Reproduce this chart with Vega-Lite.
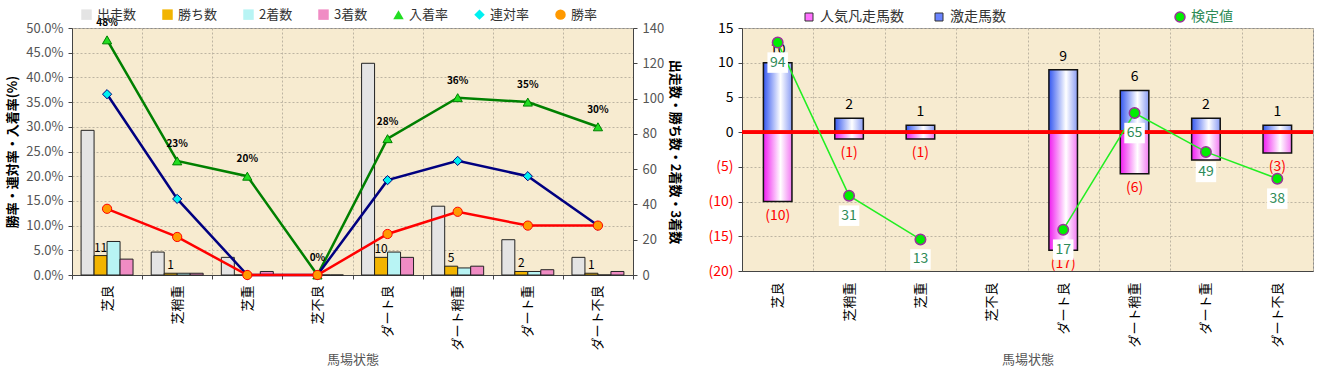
{
  "$schema": "https://vega.github.io/schema/vega-lite/v6.json",
  "background": "white",
  "padding": {"left": 6, "top": 7, "right": 10, "bottom": 5},
  "spacing": 25,
  "config": {
    "font": "Noto Sans CJK JP",
    "view": {"fill": "#f7ebd0", "stroke": "#8c8c8c", "strokeWidth": 1},
    "axis": {"labelFont": "Noto Sans CJK JP", "titleFont": "Noto Sans CJK JP", "domainColor": "#444", "tickColor": "#444", "gridColor": "#bdb4a2", "gridDash": [2, 2], "titleFontWeight": "normal"},
    "legend": {"labelFont": "Noto Sans CJK JP"}
  },
  "datasets": {
    "counts": [
      {"cond": "芝良", "series": "出走数", "value": 82},
      {"cond": "芝良", "series": "勝ち数", "value": 11},
      {"cond": "芝良", "series": "2着数", "value": 19},
      {"cond": "芝良", "series": "3着数", "value": 9},
      {"cond": "芝稍重", "series": "出走数", "value": 13},
      {"cond": "芝稍重", "series": "勝ち数", "value": 1},
      {"cond": "芝稍重", "series": "2着数", "value": 1},
      {"cond": "芝稍重", "series": "3着数", "value": 1},
      {"cond": "芝重", "series": "出走数", "value": 10},
      {"cond": "芝重", "series": "勝ち数", "value": 0},
      {"cond": "芝重", "series": "2着数", "value": 0},
      {"cond": "芝重", "series": "3着数", "value": 2},
      {"cond": "芝不良", "series": "出走数", "value": 0},
      {"cond": "芝不良", "series": "勝ち数", "value": 0},
      {"cond": "芝不良", "series": "2着数", "value": 0},
      {"cond": "芝不良", "series": "3着数", "value": 0},
      {"cond": "ダート良", "series": "出走数", "value": 120},
      {"cond": "ダート良", "series": "勝ち数", "value": 10},
      {"cond": "ダート良", "series": "2着数", "value": 13},
      {"cond": "ダート良", "series": "3着数", "value": 10},
      {"cond": "ダート稍重", "series": "出走数", "value": 39},
      {"cond": "ダート稍重", "series": "勝ち数", "value": 5},
      {"cond": "ダート稍重", "series": "2着数", "value": 4},
      {"cond": "ダート稍重", "series": "3着数", "value": 5},
      {"cond": "ダート重", "series": "出走数", "value": 20},
      {"cond": "ダート重", "series": "勝ち数", "value": 2},
      {"cond": "ダート重", "series": "2着数", "value": 2},
      {"cond": "ダート重", "series": "3着数", "value": 3},
      {"cond": "ダート不良", "series": "出走数", "value": 10},
      {"cond": "ダート不良", "series": "勝ち数", "value": 1},
      {"cond": "ダート不良", "series": "2着数", "value": 0},
      {"cond": "ダート不良", "series": "3着数", "value": 2}
    ],
    "rates": [
      {"cond": "芝良", "series": "入着率", "rate": 0.476},
      {"cond": "芝稍重", "series": "入着率", "rate": 0.231},
      {"cond": "芝重", "series": "入着率", "rate": 0.2},
      {"cond": "芝不良", "series": "入着率", "rate": 0},
      {"cond": "ダート良", "series": "入着率", "rate": 0.276},
      {"cond": "ダート稍重", "series": "入着率", "rate": 0.359},
      {"cond": "ダート重", "series": "入着率", "rate": 0.35},
      {"cond": "ダート不良", "series": "入着率", "rate": 0.3},
      {"cond": "芝良", "series": "連対率", "rate": 0.366},
      {"cond": "芝稍重", "series": "連対率", "rate": 0.154},
      {"cond": "芝重", "series": "連対率", "rate": 0},
      {"cond": "芝不良", "series": "連対率", "rate": 0},
      {"cond": "ダート良", "series": "連対率", "rate": 0.192},
      {"cond": "ダート稍重", "series": "連対率", "rate": 0.231},
      {"cond": "ダート重", "series": "連対率", "rate": 0.2},
      {"cond": "ダート不良", "series": "連対率", "rate": 0.1},
      {"cond": "芝良", "series": "勝率", "rate": 0.134},
      {"cond": "芝稍重", "series": "勝率", "rate": 0.077},
      {"cond": "芝重", "series": "勝率", "rate": 0},
      {"cond": "芝不良", "series": "勝率", "rate": 0},
      {"cond": "ダート良", "series": "勝率", "rate": 0.083},
      {"cond": "ダート稍重", "series": "勝率", "rate": 0.128},
      {"cond": "ダート重", "series": "勝率", "rate": 0.1},
      {"cond": "ダート不良", "series": "勝率", "rate": 0.1}
    ],
    "kentei": [
      {"cond": "芝良", "gek": 10, "bon": -10, "ken": 94},
      {"cond": "芝稍重", "gek": 2, "bon": -1, "ken": 31},
      {"cond": "芝重", "gek": 1, "bon": -1, "ken": 13},
      {"cond": "芝不良", "gek": 0, "bon": 0, "ken": null},
      {"cond": "ダート良", "gek": 9, "bon": -17, "ken": 17},
      {"cond": "ダート稍重", "gek": 6, "bon": -6, "ken": 65},
      {"cond": "ダート重", "gek": 2, "bon": -4, "ken": 49},
      {"cond": "ダート不良", "gek": 1, "bon": -3, "ken": 38}
    ]
  },
  "resolve": {
    "scale": {"x": "independent", "y": "independent", "fill": "independent", "shape": "independent", "stroke": "independent", "xOffset": "independent"},
    "legend": {"fill": "independent", "shape": "independent", "stroke": "independent"}
  },
  "hconcat": [
    {
      "width": 561,
      "height": 247,
      "resolve": {"scale": {"y": "independent"}},
      "layer": [
        {
          "data": {"name": "counts"},
          "encoding": {
            "x": {"field": "cond", "type": "nominal", "scale": {"domain": ["芝良", "芝稍重", "芝重", "芝不良", "ダート良", "ダート稍重", "ダート重", "ダート不良"], "paddingInner": 0, "paddingOuter": 0}, "axis": {"title": "馬場状態", "labelAngle": -90, "tickBand": "extent", "grid": true, "labelFontSize": 13, "labelColor": "#000", "labelPadding": 6, "tickSize": 4, "titleColor": "#555", "titlePadding": 3, "titleFontSize": 13}},
            "y": {"field": "value", "type": "quantitative", "scale": {"domain": [0, 140], "nice": false}, "axis": {"orient": "right", "values": [0, 20, 40, 60, 80, 100, 120, 140], "grid": false, "title": "出走数・勝ち数・2着数・3着数", "titleFontWeight": "bold", "titleFontSize": 13, "titleColor": "#000", "labelColor": "#555", "labelFontSize": 13, "tickSize": 4, "labelPadding": 5, "titlePadding": 4}}
          },
          "layer": [
            {
              "mark": {"type": "bar", "stroke": "#222", "strokeWidth": 1},
              "encoding": {
                "xOffset": {"field": "series", "type": "nominal", "scale": {"domain": ["出走数", "勝ち数", "2着数", "3着数"], "paddingInner": 0, "paddingOuter": 0.7}},
                "fill": {"field": "series", "type": "nominal", "scale": {"domain": ["出走数", "勝ち数", "2着数", "3着数", "入着率", "連対率", "勝率"], "range": ["#e4e4e4", "#f2b400", "#b8f4f4", "#f08cc4", "#22dd22", "#00f0f0", "#ff9900"]}, "legend": {"orient": "none", "legendX": 8, "legendY": -20, "direction": "horizontal", "title": null, "columnPadding": 23, "labelFontSize": 13, "labelColor": "#333", "symbolSize": 110, "symbolStrokeColor": "#333", "symbolStrokeWidth": 1, "symbolOpacity": 1}}
              }
            },
            {
              "transform": [{"filter": "datum.series === '勝ち数' && datum.value > 0"}],
              "mark": {"type": "text", "dy": -8, "fontSize": 12, "color": "#000"},
              "encoding": {
                "xOffset": {"field": "series", "type": "nominal", "scale": {"domain": ["出走数", "勝ち数", "2着数", "3着数"], "paddingInner": 0, "paddingOuter": 0.7}},
                "text": {"field": "value", "type": "quantitative"}
              }
            }
          ]
        },
        {
          "data": {"name": "rates"},
          "encoding": {
            "x": {"field": "cond", "type": "nominal", "scale": {"domain": ["芝良", "芝稍重", "芝重", "芝不良", "ダート良", "ダート稍重", "ダート重", "ダート不良"], "paddingInner": 0, "paddingOuter": 0}, "axis": {"title": "馬場状態", "labelAngle": -90, "tickBand": "extent", "grid": true, "labelFontSize": 13, "labelColor": "#000", "labelPadding": 6, "tickSize": 4, "titleColor": "#555", "titlePadding": 3, "titleFontSize": 13}},
            "y": {"field": "rate", "type": "quantitative", "scale": {"domain": [0, 0.5], "nice": false}, "axis": {"orient": "left", "format": ".1%", "values": [0, 0.05, 0.1, 0.15, 0.2, 0.25, 0.3, 0.35, 0.4, 0.45, 0.5], "grid": true, "title": "勝率・連対率・入着率(%)", "titleFontWeight": "bold", "titleFontSize": 13, "titleColor": "#000", "labelColor": "#555", "labelFontSize": 13, "tickSize": 4, "labelPadding": 5, "titlePadding": 6}}
          },
          "layer": [
            {
              "mark": {"type": "line", "strokeWidth": 2.5},
              "encoding": {
                "stroke": {"field": "series", "type": "nominal", "scale": {"domain": ["入着率", "連対率", "勝率"], "range": ["#008000", "#000080", "#ff0000"]}, "legend": null}
              }
            },
            {
              "mark": {"type": "point", "filled": true, "size": 85, "strokeWidth": 1, "opacity": 1},
              "encoding": {
                "fill": {"field": "series", "type": "nominal", "scale": {"domain": ["出走数", "勝ち数", "2着数", "3着数", "入着率", "連対率", "勝率"], "range": ["#e4e4e4", "#f2b400", "#b8f4f4", "#f08cc4", "#22dd22", "#00f0f0", "#ff9900"]}, "legend": {"orient": "none", "legendX": 8, "legendY": -20, "direction": "horizontal", "title": null, "columnPadding": 23, "labelFontSize": 13, "labelColor": "#333", "symbolSize": 110, "symbolStrokeColor": "#333", "symbolStrokeWidth": 1, "symbolOpacity": 1}},
                "shape": {"field": "series", "type": "nominal", "scale": {"domain": ["出走数", "勝ち数", "2着数", "3着数", "入着率", "連対率", "勝率"], "range": ["square", "square", "square", "square", "triangle-up", "diamond", "circle"]}, "legend": {"orient": "none", "legendX": 8, "legendY": -20, "direction": "horizontal", "title": null, "columnPadding": 23, "labelFontSize": 13, "labelColor": "#333", "symbolSize": 110, "symbolStrokeColor": "#333", "symbolStrokeWidth": 1, "symbolOpacity": 1}},
                "stroke": {"field": "series", "type": "nominal", "scale": {"domain": ["入着率", "連対率", "勝率"], "range": ["#008000", "#000080", "#ff0000"]}, "legend": null}
              }
            },
            {
              "transform": [{"filter": "datum.series === '入着率'"}],
              "mark": {"type": "text", "dy": -17, "fontSize": 10, "fontWeight": "bold", "color": "#000"},
              "encoding": {"text": {"field": "rate", "type": "quantitative", "format": ".0%"}}
            },
            {
              "data": {"values": [{"note": "©Camの競馬データ研究室"}]},
              "mark": {"type": "text", "align": "left", "dx": -35, "fontSize": 15, "color": "#8c8cf0"},
              "encoding": {
                "x": {"datum": "芝良", "type": "nominal"},
                "y": {"datum": 0.468, "type": "quantitative"},
                "text": {"field": "note", "type": "nominal"}
              }
            }
          ]
        }
      ]
    },
    {
      "width": 571,
      "height": 243,
      "data": {"name": "kentei"},
      "resolve": {"scale": {"y": "independent"}},
      "layer": [
        {
          "encoding": {
            "x": {"field": "cond", "type": "nominal", "scale": {"domain": ["芝良", "芝稍重", "芝重", "芝不良", "ダート良", "ダート稍重", "ダート重", "ダート不良"], "paddingInner": 0, "paddingOuter": 0}, "axis": {"title": "馬場状態", "labelAngle": -90, "tickBand": "extent", "grid": true, "labelFontSize": 13, "labelColor": "#000", "labelPadding": 11, "tickSize": 0, "titleColor": "#555", "titlePadding": 6, "titleFontSize": 13}}
          },
          "layer": [
            {
              "transform": [{"filter": "datum.gek > 0"}],
              "mark": {"type": "bar", "width": {"band": 0.4}},
              "encoding": {
                "y": {"field": "gek", "type": "quantitative", "scale": {"domain": [-20, 15], "nice": false}, "axis": {"orient": "left", "values": [-20, -15, -10, -5, 0, 5, 10, 15], "format": "(d", "labelColor": {"condition": {"test": "datum.value < 0", "value": "#ff0000"}, "value": "#000"}, "grid": true, "title": null, "labelFontSize": 14, "tickSize": 4, "labelPadding": 5}},
                "fill": {"datum": "激走馬数", "type": "nominal", "scale": {"domain": ["人気凡走馬数", "激走馬数"], "range": ["#ff70ff", "#6a84ff"]}, "legend": {"orient": "none", "legendX": 60, "legendY": -18, "direction": "horizontal", "title": null, "columnPadding": 28, "labelFontSize": 14, "labelColor": "#333", "symbolType": "square", "symbolSize": 64, "symbolStrokeColor": "#333", "symbolStrokeWidth": 1, "symbolOpacity": 1}}
              }
            },
            {
              "transform": [{"filter": "datum.gek > 0"}],
              "mark": {"type": "bar", "width": {"band": 0.4}, "stroke": "#111", "strokeWidth": 1.5, "fill": {"gradient": "linear", "x1": 0, "y1": 0, "x2": 1, "y2": 0, "stops": [{"offset": 0, "color": "#3558f0"}, {"offset": 0.6, "color": "#ffffff"}, {"offset": 1, "color": "#8a9cf4"}]}},
              "encoding": {
                "y": {"field": "gek", "type": "quantitative", "scale": {"domain": [-20, 15], "nice": false}, "axis": {"orient": "left", "values": [-20, -15, -10, -5, 0, 5, 10, 15], "format": "(d", "labelColor": {"condition": {"test": "datum.value < 0", "value": "#ff0000"}, "value": "#000"}, "grid": true, "title": null, "labelFontSize": 14, "tickSize": 4, "labelPadding": 5}}
              }
            },
            {
              "transform": [{"filter": "datum.bon < 0"}],
              "mark": {"type": "bar", "width": {"band": 0.4}},
              "encoding": {
                "y": {"field": "bon", "type": "quantitative", "scale": {"domain": [-20, 15], "nice": false}, "axis": {"orient": "left", "values": [-20, -15, -10, -5, 0, 5, 10, 15], "format": "(d", "labelColor": {"condition": {"test": "datum.value < 0", "value": "#ff0000"}, "value": "#000"}, "grid": true, "title": null, "labelFontSize": 14, "tickSize": 4, "labelPadding": 5}},
                "fill": {"datum": "人気凡走馬数", "type": "nominal", "scale": {"domain": ["人気凡走馬数", "激走馬数"], "range": ["#ff70ff", "#6a84ff"]}, "legend": {"orient": "none", "legendX": 60, "legendY": -18, "direction": "horizontal", "title": null, "columnPadding": 28, "labelFontSize": 14, "labelColor": "#333", "symbolType": "square", "symbolSize": 64, "symbolStrokeColor": "#333", "symbolStrokeWidth": 1, "symbolOpacity": 1}}
              }
            },
            {
              "transform": [{"filter": "datum.bon < 0"}],
              "mark": {"type": "bar", "width": {"band": 0.4}, "stroke": "#111", "strokeWidth": 1.5, "fill": {"gradient": "linear", "x1": 0, "y1": 0, "x2": 1, "y2": 0, "stops": [{"offset": 0, "color": "#f01cf0"}, {"offset": 0.6, "color": "#ffffff"}, {"offset": 1, "color": "#f27af2"}]}},
              "encoding": {
                "y": {"field": "bon", "type": "quantitative", "scale": {"domain": [-20, 15], "nice": false}, "axis": {"orient": "left", "values": [-20, -15, -10, -5, 0, 5, 10, 15], "format": "(d", "labelColor": {"condition": {"test": "datum.value < 0", "value": "#ff0000"}, "value": "#000"}, "grid": true, "title": null, "labelFontSize": 14, "tickSize": 4, "labelPadding": 5}}
              }
            },
            {
              "transform": [{"filter": "datum.gek > 0"}],
              "mark": {"type": "text", "dy": -13, "fontSize": 14, "color": "#000"},
              "encoding": {
                "y": {"field": "gek", "type": "quantitative", "scale": {"domain": [-20, 15], "nice": false}, "axis": {"orient": "left", "values": [-20, -15, -10, -5, 0, 5, 10, 15], "format": "(d", "labelColor": {"condition": {"test": "datum.value < 0", "value": "#ff0000"}, "value": "#000"}, "grid": true, "title": null, "labelFontSize": 14, "tickSize": 4, "labelPadding": 5}},
                "text": {"field": "gek", "type": "quantitative"}
              }
            },
            {
              "transform": [{"filter": "datum.bon < 0"}],
              "mark": {"type": "text", "dy": 14, "fontSize": 14, "color": "#ff0000"},
              "encoding": {
                "y": {"field": "bon", "type": "quantitative", "scale": {"domain": [-20, 15], "nice": false}, "axis": {"orient": "left", "values": [-20, -15, -10, -5, 0, 5, 10, 15], "format": "(d", "labelColor": {"condition": {"test": "datum.value < 0", "value": "#ff0000"}, "value": "#000"}, "grid": true, "title": null, "labelFontSize": 14, "tickSize": 4, "labelPadding": 5}},
                "text": {"field": "bon", "type": "quantitative", "format": "(d"}
              }
            }
          ]
        },
        {
          "mark": {"type": "rule", "color": "#ff0000", "strokeWidth": 3},
          "encoding": {
            "y": {"datum": 0, "type": "quantitative", "scale": {"domain": [-20, 15], "nice": false}, "axis": null}
          }
        },
        {
          "encoding": {
            "x": {"field": "cond", "type": "nominal", "scale": {"domain": ["芝良", "芝稍重", "芝重", "芝不良", "ダート良", "ダート稍重", "ダート重", "ダート不良"], "paddingInner": 0, "paddingOuter": 0}, "axis": {"title": "馬場状態", "labelAngle": -90, "tickBand": "extent", "grid": true, "labelFontSize": 13, "labelColor": "#000", "labelPadding": 11, "tickSize": 0, "titleColor": "#555", "titlePadding": 6, "titleFontSize": 13}},
            "y": {"field": "ken", "type": "quantitative", "scale": {"domain": [0, 100], "nice": false}, "axis": null}
          },
          "layer": [
            {"mark": {"type": "line", "color": "#22ee22", "strokeWidth": 1.5}},
            {
              "mark": {"type": "point", "filled": true, "fill": "#00ee00", "size": 110, "strokeWidth": 1.5, "opacity": 1},
              "encoding": {
                "stroke": {"datum": "検定値", "type": "nominal", "scale": {"domain": ["検定値"], "range": ["#993399"]}, "legend": {"orient": "none", "legendX": 431, "legendY": -18, "title": null, "labelFontSize": 14, "labelColor": "#2e8b57", "symbolType": "circle", "symbolFillColor": "#00ee00", "symbolSize": 100, "symbolStrokeWidth": 1.5, "symbolOpacity": 1}}
              }
            },
            {"mark": {"type": "point", "shape": "square", "filled": true, "size": 420, "color": "#ffffff", "strokeWidth": 0, "opacity": 1, "yOffset": 20}},
            {
              "mark": {"type": "text", "dy": 20, "fontSize": 14, "color": "#2e8b57"},
              "encoding": {"text": {"field": "ken", "type": "quantitative"}}
            }
          ]
        }
      ]
    }
  ]
}
